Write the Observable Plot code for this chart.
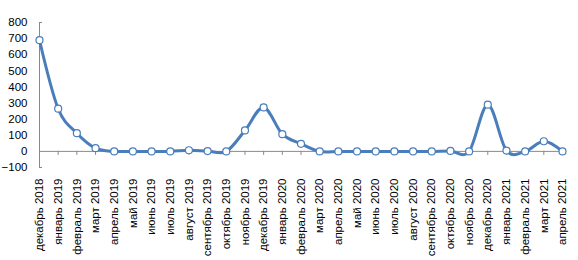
<!DOCTYPE html>
<html>
<head>
<meta charset="utf-8">
<script src="https://cdn.jsdelivr.net/npm/d3@7"></script>
<script src="https://cdn.jsdelivr.net/npm/@observablehq/plot@0.6"></script>
<style>
  html, body { margin: 0; padding: 0; background: #fff; }
  svg { display: block; }
</style>
</head>
<body>
<div id="chart"></div>
<script>
const months = [
  "декабрь 2018", "январь 2019", "февраль 2019", "март 2019", "апрель 2019",
  "май 2019", "июнь 2019", "июль 2019", "август 2019", "сентябрь 2019",
  "октябрь 2019", "ноябрь 2019", "декабрь 2019", "январь 2020", "февраль 2020",
  "март 2020", "апрель 2020", "май 2020", "июнь 2020", "июль 2020",
  "август 2020", "сентябрь 2020", "октябрь 2020", "ноябрь 2020", "декабрь 2020",
  "январь 2021", "февраль 2021", "март 2021", "апрель 2021"
];
const values = [
  690, 265, 113, 20, 0,
  0, 0, 0, 7, 2,
  0, 130, 273, 107, 47,
  0, 0, 0, 0, 0,
  0, 0, 3, 0, 290,
  5, 0, 63, 0
];
const yTicks = [-100, 0, 100, 200, 300, 400, 500, 600, 700, 800];

const idx = months.map((m, i) => i);
const data = months.map((m, i) => ({i, month: m, value: values[i]}));
const axisColor = "#898989";
const blue = "#4a7ebb";

const chart = Plot.plot({
  width: 578,
  height: 260,
  marginLeft: 39,
  marginRight: 16,
  marginTop: 22,
  marginBottom: 93,
  style: {fontFamily: "'Liberation Sans', Arial, sans-serif", fontSize: "11px", color: "#000"},
  x: {type: "linear", domain: [0, months.length - 1], label: null},
  y: {domain: [-100, 800], label: null},
  marks: [
    Plot.frame({anchor: "left", stroke: axisColor}),
    Plot.ruleY([800, -100], {x1: 0, x2: 0, insetRight: -3, stroke: axisColor}),
    Plot.ruleY([0], {stroke: axisColor}),
    Plot.ruleX(idx.slice(1), {x: d => d, y1: 0, y2: 0, insetBottom: -4, stroke: axisColor}),
    Plot.axisY({ticks: yTicks, tickSize: 0, tickPadding: 12, fontSize: 11.5, fill: "#000", label: null}),
    Plot.axisX({ticks: idx, tickFormat: i => months[i], tickSize: 0, tickPadding: 11, tickRotate: -90, fontSize: 11.5, fill: "#000", label: null}),
    Plot.line(data, {x: "i", y: "value", stroke: blue, strokeWidth: 3, curve: "cardinal"}),
    Plot.dot(data, {x: "i", y: "value", r: 3.5, fill: "white", stroke: blue, strokeWidth: 1.2})
  ]
});
document.getElementById("chart").appendChild(chart);
</script>
</body>
</html>
